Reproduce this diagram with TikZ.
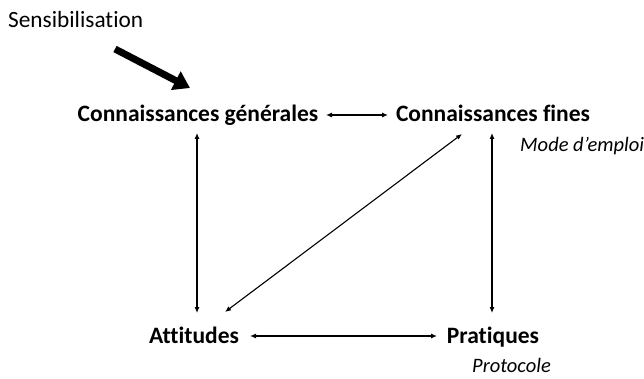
\documentclass[tikz,border=0pt]{standalone}
\usepackage{fontspec}
\setmainfont{Carlito}[Ligatures=NoCommon]
\usetikzlibrary{arrows.meta}
\begin{document}
\begin{tikzpicture}[x=1pt,y=-1pt,
  concept/.style={font=\fontsize{23.5}{27}\selectfont\bfseries, inner sep=0pt, anchor=base},
  note/.style={font=\fontsize{20.5}{24}\selectfont\itshape, inner sep=0pt, anchor=base west},
  link/.style={line width=1.1pt, {Latex[length=6pt,width=5pt]}-{Latex[length=6pt,width=5pt]}}]
\useasboundingbox (0,0) rectangle (644,379);
\node[font=\fontsize{23.3}{27}\selectfont, inner sep=0pt, anchor=base west] (sens) at (8,28) {Sensibilisation};
\node[concept] (cg) at (198,122) {Connaissances générales};
\node[concept] (cf) at (493,122) {Connaissances fines};
\node[concept] (att) at (194,343) {Attitudes};
\node[concept] (pra) at (493,343) {Pratiques};
\node[note] (mode) at (520,152) {Mode d’emploi};
\node[note] (proto) at (472,372) {Protocole};
\coordinate (s1) at (115,49);
\coordinate (s2) at (190,88);
\draw[line width=7pt, -{Triangle[length=16pt,width=20pt]}] (s1) -- (s2);
\coordinate (a1) at (326,115); \coordinate (a2) at (388,115);
\draw[link] (a1) -- (a2);
\coordinate (b1) at (197,133); \coordinate (b2) at (197,313);
\draw[link] (b1) -- (b2);
\coordinate (c1) at (492,133); \coordinate (c2) at (492,313);
\draw[link] (c1) -- (c2);
\coordinate (d1) at (462,134); \coordinate (d2) at (225,312);
\draw[link] (d1) -- (d2);
\coordinate (e1) at (250,336); \coordinate (e2) at (437,336);
\draw[link] (e1) -- (e2);
\end{tikzpicture}
\end{document}
